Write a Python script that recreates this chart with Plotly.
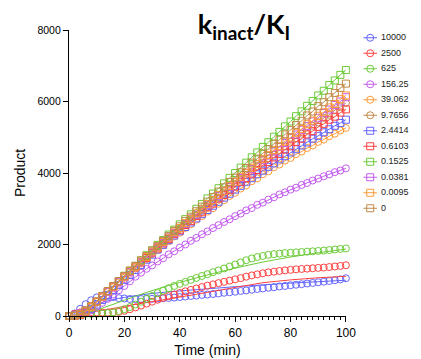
import plotly.graph_objects as go

# ---- data -------------------------------------------------------------
time_min = [0, 2, 4, 6, 8, 10, 12, 14, 16, 18, 20, 22, 24, 26, 28, 30, 32, 34, 36, 38,
            40, 42, 44, 46, 48, 50, 52, 54, 56, 58, 60, 62, 64, 66, 68, 70, 72, 74, 76, 78,
            80, 82, 84, 86, 88, 90, 92, 94, 96, 98, 100]

fit_time = [0, 5, 10, 15, 20, 25, 30, 35, 40, 45, 50, 55, 60, 65, 70, 75, 80, 85, 90, 95, 100]

conc_labels = ["10000", "2500", "625", "156.25", "39.062", "9.7656",
               "2.4414", "0.6103", "0.1525", "0.0381", "0.0095", "0"]

p_10000 = [0, 70, 200, 330, 440, 520, 570, 560, 530, 500, 490, 475, 470, 475, 480, 480, 490, 495, 505, 515,
           530, 545, 560, 570, 590, 600, 615, 630, 650, 665, 680, 700, 715, 735, 755, 770, 790, 805, 825, 840,
           860, 875, 890, 910, 925, 945, 960, 980, 1000, 1025, 1055]
p_2500 = [0, 60, 100, 110, 110, 100, 95, 95, 100, 115, 145, 190, 240, 290, 345, 400, 455, 505, 555, 600,
          645, 690, 730, 770, 810, 850, 885, 920, 955, 990, 1025, 1060, 1100, 1135, 1165, 1195, 1220, 1240, 1260, 1275,
          1290, 1305, 1315, 1325, 1335, 1345, 1355, 1370, 1385, 1400, 1420]
p_625 = [0, 30, 50, 60, 60, 60, 70, 80, 100, 140, 190, 250, 320, 400, 480, 560, 640, 710, 780, 840,
         900, 955, 1010, 1065, 1120, 1170, 1225, 1275, 1330, 1385, 1440, 1500, 1560, 1610, 1650, 1680, 1710, 1730, 1745, 1760,
         1770, 1780, 1790, 1800, 1810, 1820, 1830, 1845, 1860, 1875, 1890]
p_156 = [0, 10, 30, 80, 160, 260, 370, 480, 600, 720, 840, 970, 1100, 1210, 1320, 1415, 1525, 1615, 1725, 1810,
         1915, 2000, 2105, 2185, 2285, 2365, 2460, 2540, 2630, 2705, 2795, 2865, 2955, 3020, 3110, 3170, 3255, 3320, 3400, 3460,
         3535, 3590, 3665, 3720, 3790, 3845, 3910, 3960, 4025, 4070, 4130]
p_39 = [0, 10, 50, 140, 250, 390, 520, 670, 800, 940, 1070, 1210, 1330, 1470, 1590, 1730, 1840, 1980, 2090, 2225,
        2330, 2460, 2565, 2695, 2795, 2920, 3015, 3140, 3235, 3355, 3445, 3565, 3650, 3770, 3850, 3965, 4045, 4160, 4235, 4345,
        4420, 4525, 4600, 4700, 4770, 4870, 4935, 5030, 5100, 5190, 5260]
p_9_77 = [0, 10, 40, 130, 260, 410, 550, 680, 830, 955, 1105, 1230, 1380, 1500, 1650, 1770, 1915, 2035, 2180, 2300,
          2440, 2555, 2700, 2815, 2955, 3065, 3205, 3315, 3455, 3560, 3700, 3805, 3940, 4045, 4180, 4280, 4415, 4515, 4645, 4745,
          4875, 4970, 5100, 5195, 5320, 5415, 5540, 5630, 5755, 5845, 5960]
p_2_44 = [0, 0, 20, 100, 200, 320, 450, 590, 730, 870, 1010, 1150, 1290, 1430, 1575, 1715, 1860, 1990, 2120, 2250,
          2370, 2490, 2615, 2730, 2850, 2965, 3085, 3195, 3310, 3420, 3535, 3640, 3755, 3855, 3965, 4065, 4175, 4270, 4380, 4470,
          4575, 4665, 4770, 4855, 4960, 5040, 5140, 5225, 5320, 5400, 5490]
p_0_61 = [0, 0, 30, 120, 250, 390, 530, 680, 810, 960, 1090, 1240, 1360, 1505, 1625, 1770, 1890, 2030, 2150, 2290,
          2400, 2545, 2655, 2795, 2900, 3040, 3145, 3285, 3385, 3520, 3620, 3755, 3855, 3985, 4085, 4215, 4305, 4435, 4530, 4655,
          4745, 4870, 4960, 5080, 5170, 5290, 5375, 5490, 5575, 5690, 5780]
p_0_15 = [0, 10, 50, 140, 270, 400, 550, 690, 840, 975, 1125, 1270, 1405, 1560, 1700, 1840, 1990, 2125, 2280, 2415,
          2565, 2710, 2845, 3000, 3135, 3290, 3425, 3575, 3710, 3865, 4000, 4150, 4290, 4440, 4575, 4730, 4860, 5015, 5150, 5305,
          5440, 5590, 5725, 5880, 6015, 6170, 6300, 6460, 6590, 6745, 6880]
p_0_038 = [0, 20, 70, 160, 270, 400, 530, 670, 820, 950, 1090, 1230, 1370, 1500, 1650, 1780, 1930, 2050, 2200, 2320,
           2460, 2580, 2730, 2840, 2990, 3100, 3250, 3360, 3500, 3610, 3750, 3860, 4000, 4110, 4250, 4355, 4490, 4600, 4735, 4840,
           4975, 5075, 5210, 5310, 5445, 5545, 5675, 5775, 5900, 6000, 6120]
p_0_0095 = [0, 0, 40, 130, 250, 390, 540, 690, 820, 970, 1100, 1250, 1375, 1525, 1650, 1800, 1920, 2070, 2190, 2340,
            2460, 2600, 2720, 2870, 2985, 3130, 3245, 3385, 3500, 3640, 3755, 3895, 4005, 4145, 4255, 4395, 4505, 4640, 4745, 4885,
            4990, 5125, 5230, 5365, 5465, 5600, 5700, 5835, 5930, 6065, 6170]
p_0 = [0, 10, 60, 160, 280, 410, 560, 700, 840, 980, 1120, 1270, 1400, 1550, 1680, 1830, 1960, 2100, 2240, 2380,
       2510, 2660, 2780, 2930, 3060, 3200, 3330, 3480, 3600, 3750, 3870, 4020, 4140, 4290, 4400, 4550, 4670, 4820, 4930, 5080,
       5200, 5340, 5460, 5610, 5720, 5870, 5980, 6120, 6240, 6380, 6500]

# fitted curves for the three slowest traces (sampled every 5 min)
fit_10000 = [0, 180, 330, 440, 520, 580, 630, 670, 700, 730, 760, 790, 820, 845, 870, 895, 920, 940, 960, 980, 1000]
fit_2500 = [0, 60, 130, 200, 270, 340, 400, 465, 530, 595, 660, 730, 800, 865, 930, 970, 1010, 1040, 1070, 1090, 1110]
fit_625 = [0, 60, 170, 300, 440, 580, 710, 830, 940, 1045, 1150, 1245, 1340, 1425, 1510, 1580, 1650, 1710, 1770, 1820, 1870]

values = [p_10000, p_2500, p_625, p_156, p_39, p_9_77, p_2_44, p_0_61, p_0_15, p_0_038, p_0_0095, p_0]
fits = {0: fit_10000, 1: fit_2500, 2: fit_625}

# ---- style ------------------------------------------------------------
palette = ["#6464FF", "#FF4040", "#6CCB38", "#C45CF0", "#FF9A36", "#C08A48"]
colors = palette + palette
symbols = ["circle-open"] * 6 + ["square-open"] * 6

# layout geometry (figure pixels; the page body adds an 8 px offset)
OFF = 8
W, H = 421 - OFF, 359 - OFF
ML, MR, MT, MB = 69 - OFF, 0, 30 - OFF, 43
plot_w = W - ML - MR
plot_h = H - MT - MB
main_w = 285                      # width of the data panel
key_left = 366 - OFF              # left edge of the key panel
key_w = W - key_left
row_h = 15.5
key_bottom_px = MT + row_h * len(conc_labels)

fig = go.Figure()
for i, (lab, vals) in enumerate(zip(conc_labels, values)):
    col = colors[i]
    sym = symbols[i]
    if i in fits:
        fx, fy, shape = fit_time, fits[i], "spline"
    else:
        fx, fy, shape = time_min, vals, "linear"
    fig.add_trace(go.Scatter(x=fx, y=fy, mode="lines", line=dict(color=col, width=1, shape=shape),
                             showlegend=False, hoverinfo="skip", cliponaxis=False))
    fig.add_trace(go.Scatter(x=time_min, y=vals, mode="markers", showlegend=False, name=lab,
                             marker=dict(symbol=sym, size=7, color=col, line=dict(width=1, color=col)),
                             cliponaxis=False))
    # key entry (line + symbol), drawn in the key panel
    fig.add_trace(go.Scatter(x=[6, 20], y=[lab, lab], mode="lines", line=dict(color=col, width=1),
                             xaxis="x2", yaxis="y2", showlegend=False, hoverinfo="skip", cliponaxis=False))
    fig.add_trace(go.Scatter(x=[13], y=[lab], mode="markers", xaxis="x2", yaxis="y2",
                             marker=dict(symbol=sym, size=7, color=col, line=dict(width=1, color=col)),
                             showlegend=False, hoverinfo="skip", cliponaxis=False))

# key labels
fig.add_trace(go.Scatter(x=[24] * len(conc_labels), y=conc_labels, text=conc_labels, mode="text",
                         textposition="middle right", textfont=dict(size=9, color="#222222"),
                         xaxis="x2", yaxis="y2", showlegend=False, hoverinfo="skip", cliponaxis=False))

axis_common = dict(showline=True, linecolor="black", linewidth=1.3, ticks="outside",
                   tickcolor="black", tickwidth=1.3, ticklen=5, showgrid=False, zeroline=False,
                   mirror=False)

fig.update_layout(
    width=W, height=H,
    margin=dict(l=ML, r=MR, t=MT, b=MB),
    paper_bgcolor="white", plot_bgcolor="white",
    font=dict(family="Liberation Sans, Arial, sans-serif", color="black"),
    showlegend=False,
    title=dict(text="<b>k<sub>inact</sub>/K<sub>I</sub></b>", x=(244 - OFF) / W, xanchor="center",
               y=1 - (25 - OFF) / H, yanchor="middle", yref="container",
               font=dict(family="Lato, sans-serif", size=27, color="black")),
    xaxis=dict(domain=[0, main_w / plot_w], range=[0, 100], dtick=20, tick0=0,
               minor=dict(dtick=2, ticks="outside", ticklen=2.5, tickwidth=1, tickcolor="black"),
               tickfont=dict(size=12), title=dict(text="Time (min)", font=dict(size=14), standoff=6),
               **axis_common),
    yaxis=dict(range=[0, 8000], dtick=2000, tick0=0, tickfont=dict(size=10.5),
               title=dict(text="Product", font=dict(size=14), standoff=8),
               **axis_common),
    xaxis2=dict(domain=[(key_left - ML) / plot_w, 1], range=[0, key_w], visible=False,
                anchor="y2", fixedrange=True),
    yaxis2=dict(domain=[(H - MB - key_bottom_px) / plot_h, 1], type="category",
                categoryarray=conc_labels, categoryorder="array",
                range=[len(conc_labels) - 0.5, -0.5], visible=False, anchor="x2", fixedrange=True),
)

fig.write_html("out.html")
